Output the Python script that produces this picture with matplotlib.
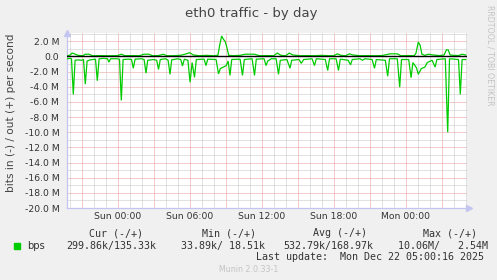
import numpy as np
import matplotlib
matplotlib.use("Agg")
import matplotlib.pyplot as plt

# ---------------- data (hours relative to Sun 00:00, values in Mbit/s) ----------------
in_t = [-4.2, -4.0, -3.85, -3.7, -3.55, -3.3, -3.0, -2.85, -2.7, -2.55, -2.3, -1.85, -1.7, -1.55,
        -1.2, -0.85, -0.73, -0.6, -0.1, 0.15, 0.3, 0.45, 0.9, 1.15, 1.3, 1.45, 2.0, 2.2, 2.36, 2.5,
        3.0, 3.25, 3.4, 3.55, 4.0, 4.2, 4.36, 4.5, 5.0, 5.25, 5.4, 5.55, 5.85, 6.03, 6.2, 6.4, 6.55,
        7.2, 7.36, 7.5, 8.2, 8.4, 8.55, 8.8, 9.05, 9.2, 9.36, 9.5, 10.2, 10.4, 10.55, 11.2, 11.4,
        11.55, 12.2, 12.36, 12.5, 12.8, 13.2, 13.4, 13.55, 14.1, 14.36, 14.5, 15.1, 15.3, 15.5,
        16.2, 16.4, 16.55, 17.3, 17.5, 17.65, 18.2, 18.4, 18.55, 19.2, 19.4, 19.55, 20.2, 20.4,
        20.6, 21.2, 21.4, 21.55, 22.3, 22.5, 22.65, 23.3, 23.5, 23.65, 24.25, 24.45, 24.6, 24.9,
        25.05, 25.3, 25.6, 25.8, 26.2, 26.45, 26.6, 27.3, 27.5, 27.65, 28.4, 28.55, 28.7, 29.0]
in_v = [-0.3, -0.25, -0.3, -5.0, -0.5, -0.45, -0.5, -0.4, -3.65, -0.6, -0.45, -0.35, -3.2, -0.3,
        -0.25, -0.3, -0.75, -0.3, -0.3, -0.35, -5.8, -0.4, -0.35, -0.4, -1.55, -0.35, -0.3, -0.4,
        -2.2, -0.5, -0.4, -0.5, -1.7, -0.4, -0.3, -0.5, -2.35, -0.45, -0.3, -0.4, -1.25, -0.35,
        -0.5, -3.4, -0.8, -2.75, -0.4, -0.35, -1.2, -0.35, -0.4, -2.3, -1.6, -1.4, -1.2, -0.6,
        -2.5, -0.4, -0.35, -2.5, -0.4, -0.3, -2.5, -0.35, -0.3, -1.2, -0.6, -0.3, -0.3, -2.35,
        -0.5, -0.4, -1.55, -0.5, -0.4, -0.9, -0.4, -0.3, -1.2, -0.3, -0.4, -1.85, -0.3, -0.3,
        -1.85, -0.35, -0.5, -1.1, -0.4, -0.3, -0.5, -0.3, -0.4, -1.55, -0.4, -0.5, -2.6, -0.3,
        -0.3, -4.05, -0.4, -0.4, -2.8, -0.8, -1.5, -2.35, -1.6, -1.4, -0.8, -0.5, -1.4, -0.4,
        -0.3, -10.0, -0.3, -0.4, -5.0, -0.4, -0.4]

out_t = [-4.2, -3.95, -3.8, -3.6, -3.3, -2.9, -2.7, -2.4, -2.1, -1.6, -1.0, -0.5, 0.0, 0.3, 0.6,
         1.2, 1.8, 2.2, 2.6, 2.9, 3.4, 3.8, 4.1, 4.6, 5.2, 5.6, 6.0, 6.3, 6.8, 7.4, 8.0, 8.35, 8.5,
         8.66, 8.8, 8.95, 9.1, 9.25, 9.6, 10.2, 10.6, 11.0, 11.4, 11.8, 12.4, 13.0, 13.3, 13.6,
         14.0, 14.3, 14.6, 15.2, 15.8, 16.4, 17.0, 17.6, 18.0, 18.3, 18.6, 19.0, 19.3, 19.6, 20.2,
         20.8, 21.4, 22.0, 22.7, 23.0, 23.3, 23.6, 24.2, 24.7, 24.85, 25.05, 25.2, 25.35, 25.6,
         25.9, 26.3, 26.8, 27.2, 27.4, 27.55, 27.7, 28.0, 28.4, 28.7, 29.0]
out_v = [0.1, 0.2, 0.45, 0.35, 0.15, 0.1, 0.3, 0.3, 0.1, 0.12, 0.1, 0.1, 0.12, 0.3, 0.1,
         0.12, 0.1, 0.3, 0.3, 0.1, 0.12, 0.3, 0.1, 0.1, 0.15, 0.3, 0.5, 0.2, 0.1, 0.15, 0.1, 0.15,
         1.5, 2.7, 2.3, 2.0, 1.2, 0.15, 0.1, 0.15, 0.3, 0.3, 0.3, 0.1, 0.12, 0.1, 0.45, 0.15, 0.1,
         0.45, 0.2, 0.1, 0.12, 0.1, 0.15, 0.1, 0.1, 0.35, 0.15, 0.1, 0.35, 0.2, 0.1, 0.12, 0.1,
         0.12, 0.35, 0.35, 0.35, 0.1, 0.12, 0.1, 0.4, 1.9, 1.5, 0.3, 0.15, 0.3, 0.2, 0.12, 0.2,
         0.9, 0.85, 0.2, 0.15, 0.12, 0.3, 0.2]

xtick_pos = [0, 6, 12, 18, 24]
xtick_labels = ["Sun 00:00", "Sun 06:00", "Sun 12:00", "Sun 18:00", "Mon 00:00"]
ytick_pos = list(range(2, -21, -2))

title = "eth0 traffic - by day"
ylabel = "bits in (-) / out (+) per second"
legend_headers = ["Cur (-/+)", "Min (-/+)", "Avg (-/+)", "Max (-/+)"]
legend_values = ["299.86k/135.33k", "33.89k/ 18.51k", "532.79k/168.97k", "10.06M/   2.54M"]
series_name = "bps"
last_update = "Last update:  Mon Dec 22 05:00:16 2025"
footer = "Munin 2.0.33-1"
side_text = "RRDTOOL / TOBI OETIKER"

# ---------------- figure ----------------
W, H = 497, 280
BG = "#f0f0f0"
GREEN = "#00cc00"
fig = plt.figure(figsize=(W / 100, H / 100), dpi=100, facecolor=BG)

L, R, T, B = 67, 467, 33, 208
ax = fig.add_axes([L / W, 1 - B / H, (R - L) / W, (B - T) / H])
ax.set_facecolor("white")
xmin, xmax = (L - 117.7) / 12.0, (R - 117.7) / 12.0
ymin, ymax = -20.0, 3.1
ax.set_xlim(xmin, xmax)
ax.set_ylim(ymin, ymax)

# grid
dot = (0, (1, 1))
for h in np.arange(np.ceil(xmin), xmax, 1.0):
    major = int(round(h)) % 3 == 0
    ln = ax.axvline(h, color="#e89898" if major else "#c4c4c4", lw=0.72, ls=dot, zorder=1)
    ln.set_snap(True)
for v in np.arange(ymin + 1, ymax, 1.0):
    major = int(round(v)) % 2 == 0
    ln = ax.axhline(v, color="#e89898" if major else "#c4c4c4", lw=0.72, ls=dot, zorder=1)
    ln.set_snap(True)

# series
ax.plot(in_t, in_v, color=GREEN, lw=0.9, zorder=3, solid_joinstyle="miter")
ax.plot(out_t, out_v, color=GREEN, lw=0.9, zorder=3, solid_joinstyle="miter")
ax.axhline(0, color="black", lw=1.0, zorder=4)

# axes styling
for s in ["top", "right"]:
    ax.spines[s].set_visible(False)
axis_col = "#c4c4f0"
ax.spines["left"].set_color(axis_col)
ax.spines["bottom"].set_color(axis_col)
ax.spines["left"].set_linewidth(0.9)
ax.spines["bottom"].set_linewidth(0.9)
ax.plot([xmin], [ymax], marker="^", color=axis_col, ms=4, clip_on=False, zorder=5)
ax.plot([xmax + 0.2], [ymin], marker=">", color=axis_col, ms=4, clip_on=False, zorder=5)

ax.set_xticks(xtick_pos)
ax.set_xticklabels(xtick_labels)
ax.set_yticks(ytick_pos)
ax.set_yticklabels([("%.1f M" % v) if v != 0 else "0.0" for v in ytick_pos])
ax.tick_params(axis="both", length=0, labelsize=6.7, labelcolor="#333333")
ax.tick_params(axis="y", pad=5.5)
ax.tick_params(axis="x", pad=3.2)

# texts
fig.text(0.5 + 3 / W, 1 - 14 / H, title, ha="center", va="center", fontsize=9.5, color="#444444")
fig.text(11 / W, 1 - 112.5 / H, ylabel, rotation=90, ha="center", va="center", fontsize=7.6,
         color="#444444")
fig.text(490 / W, 1 - 5 / H, side_text, rotation=270, ha="center", va="top", fontsize=5.7,
         color="#c4c4c4")

mono = "DejaVu Sans Mono"
hdr_x = [89.3, 201.7, 312.7, 423.3]
val_x = [66.7, 180.7, 283.3, 397.7]
for x, s in zip(hdr_x, legend_headers):
    fig.text(x / W, 1 - 233.3 / H, s, ha="left", va="center", family=mono, fontsize=7.2,
             color="#333333")
for x, s in zip(val_x, legend_values):
    fig.text(x / W, 1 - 246 / H, s, ha="left", va="center", family=mono, fontsize=7.2,
             color="#333333")
fig.patches.append(plt.Rectangle((14 / W, 1 - 248.5 / H), 6 / W, 6 / H, transform=fig.transFigure,
                                 color=GREEN, figure=fig))
fig.text(26.7 / W, 1 - 246 / H, series_name, ha="left", va="center", fontsize=7.2, color="#333333")
fig.text(483.5 / W, 1 - 257.5 / H, last_update, ha="right", va="center", family=mono,
         fontsize=7.2, color="#333333")
fig.text(248.3 / W, 1 - 269 / H, footer, ha="center", va="center", fontsize=5.7, color="#c4c4c4")

fig.savefig("out.png", dpi=100, facecolor=BG)
